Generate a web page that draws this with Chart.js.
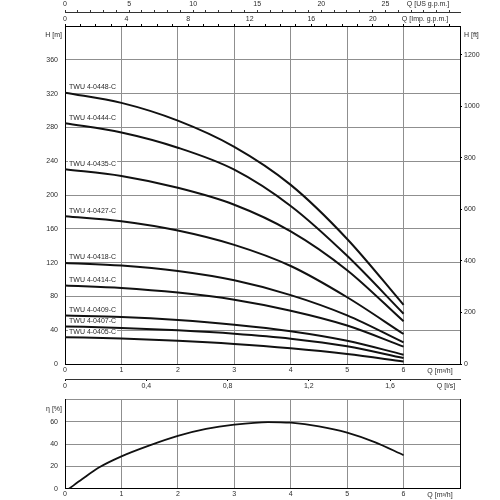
<!DOCTYPE html>
<html><head><meta charset="utf-8">
<script src="https://cdn.jsdelivr.net/npm/chart.js@4.4.1/dist/chart.umd.min.js"></script>
<style>
html,body{margin:0;padding:0;background:#fff;width:500px;height:500px;overflow:hidden}
canvas{position:absolute;left:0}
#top{top:0}
#bot{top:388px}
</style></head><body>
<canvas id="top" width="500" height="392"></canvas>
<canvas id="bot" width="500" height="112"></canvas>
<script>
// ---- data ----
const flow = [0, 1, 2, 3, 4, 5, 6];               // Q [m3/h]
const pumpNames = ['TWU 4-0448-C','TWU 4-0444-C','TWU 4-0435-C','TWU 4-0427-C','TWU 4-0418-C','TWU 4-0414-C','TWU 4-0409-C','TWU 4-0407-C','TWU 4-0405-C'];
const h0448 = [321, 309, 288, 257, 212, 148, 70];
const h0444 = [285, 274, 256, 230, 187, 128, 59.5];
const h0435 = [230.5, 222.5, 208.5, 188.5, 157, 111, 50.5];
const h0427 = [175, 169, 158, 141, 116, 79, 35.5];
const h0418 = [119.6, 116.5, 110, 99, 81.5, 57.5, 25.5];
const h0414 = [93, 90, 84.5, 76, 63, 45.5, 20.5];
const h0409 = [57.5, 55.6, 52, 46.5, 38.8, 27.5, 11];
const h0407 = [44.5, 42.7, 39.8, 35.8, 30, 21, 7];
const h0405 = [31.7, 30.2, 27.6, 23.8, 18.6, 11.8, 3];
const headSeries = [h0448, h0444, h0435, h0427, h0418, h0414, h0409, h0407, h0405];
const effFlow = [0.07, 0.3, 0.6, 1, 1.5, 2, 2.5, 3, 3.6, 4, 4.5, 5, 5.5, 6];
const effValues = [0, 8.5, 19, 29, 38.8, 47.3, 53.5, 57.3, 59.6, 59, 55.8, 50.2, 41.5, 30];
const headTicksM = [0, 40, 80, 120, 160, 200, 240, 280, 320, 360];
const effTicks = [0, 20, 40, 60];

// unit conversions
const M3H_TO_USGPM = 4.40287, M3H_TO_IMPGPM = 3.66615, M3H_TO_LS = 1/3.6, M_TO_FT = 3.28084;
const Q_MAX = 7, H_MAX = 400;

const FONT = {family: "'Liberation Sans', Arial, sans-serif", size: 7};
const TXT = '#2a2a2a';
const GRID = '#8f8f8f';
Chart.defaults.font.family = FONT.family;
Chart.defaults.font.size = FONT.size;
Chart.defaults.color = TXT;

const fix = (prop, v) => (s) => { s[prop] = v; };

const labelPlugin = {
  id: 'curveLabels',
  beforeDatasetsDraw(chart) {
    const ctx = chart.ctx, xs = chart.scales.x, ys = chart.scales.y;
    ctx.save();
    ctx.font = FONT.size + 'px ' + FONT.family;
    ctx.textBaseline = 'middle';
    ctx.textAlign = 'left';
    pumpNames.forEach((n, i) => {
      const px = xs.getPixelForValue(0) + 4;
      const py = ys.getPixelForValue(headSeries[i][0]) - 5.5;
      const w = ctx.measureText(n).width;
      ctx.fillStyle = '#fff';
      ctx.fillRect(px - 1, py - 4, w + 2, 8);
      ctx.fillStyle = TXT;
      ctx.fillText(n, px, py);
    });
    ctx.restore();
  }
};

const titlesTop = {
  id: 'titlesTop',
  afterDraw(chart) {
    const ctx = chart.ctx, a = chart.chartArea;
    ctx.save();
    ctx.font = FONT.size + 'px ' + FONT.family;
    ctx.fillStyle = TXT;
    ctx.textBaseline = 'middle';
    ctx.textAlign = 'right';
    ctx.fillText('H [m]', a.left - 3, a.top + 9);
    ctx.textAlign = 'left';
    ctx.fillText('H [ft]', a.right + 4, a.top + 9);
    ctx.textAlign = 'center';
    ctx.fillText('Q [US g.p.m.]', a.right - 32, chart.scales.xUS.top + 4);
    ctx.fillText('Q [Imp. g.p.m.]', a.right - 35, chart.scales.xImp.top + 7);
    ctx.fillText('Q [m³/h]', a.right - 20, a.bottom + 7);
    ctx.fillText('Q [l/s]', a.right - 14, chart.scales.xLs.top + 7.5);
    ctx.restore();
  }
};

const titlesBot = {
  id: 'titlesBot',
  afterDraw(chart) {
    const ctx = chart.ctx, a = chart.chartArea;
    ctx.save();
    ctx.font = FONT.size + 'px ' + FONT.family;
    ctx.fillStyle = TXT;
    ctx.textBaseline = 'middle';
    ctx.textAlign = 'right';
    ctx.fillText('η [%]', a.left - 3, a.top + 10);
    ctx.textAlign = 'center';
    ctx.fillText('Q [m³/h]', a.right - 20, a.bottom + 6);
    ctx.restore();
  }
};

new Chart(document.getElementById('top'), {
  type: 'line',
  data: {
    datasets: headSeries.map((arr, i) => ({
      label: pumpNames[i],
      data: flow.map((q, j) => ({x: q, y: arr[j]})),
      borderColor: '#111', borderWidth: 2, pointRadius: 0,
      cubicInterpolationMode: 'monotone', fill: false
    }))
  },
  options: {
    responsive: false, animation: false,
    layout: {padding: 0},
    plugins: {legend: {display: false}, tooltip: {enabled: false}},
    scales: {
      x: {
        type: 'linear', position: 'bottom', weight: 1, min: 0, max: Q_MAX,
        afterFit: fix('height', 15),
        ticks: {stepSize: 1, padding: 2, maxRotation: 0, autoSkip: false,
                callback: v => v <= 6 ? String(v) : ''},
        grid: {color: GRID, lineWidth: 1, drawTicks: false},
        border: {display: true, color: '#000', width: 1}
      },
      xLs: {
        type: 'linear', position: 'bottom', weight: 2, min: 0, max: Q_MAX * M3H_TO_LS,
        afterFit: fix('height', 13),
        ticks: {stepSize: 0.4, padding: 1, maxRotation: 0, autoSkip: false, includeBounds: false,
                callback: v => v === 0 ? '0' : v.toFixed(1).replace('.', ',')},
        grid: {drawOnChartArea: false, drawTicks: true, tickLength: 2, tickColor: '#000'},
        border: {display: true, color: '#333', width: 1}
      },
      xImp: {
        type: 'linear', position: 'top', weight: 1, min: 0, max: Q_MAX * M3H_TO_IMPGPM,
        afterFit: fix('height', 14),
        ticks: {stepSize: 1, padding: 1, maxRotation: 0, autoSkip: false, includeBounds: false,
                callback: v => (v % 4 === 0 && v <= 20) ? String(v) : ''},
        grid: {drawOnChartArea: false, drawTicks: true, tickLength: 2, tickColor: '#000'},
        border: {display: true, color: '#000', width: 1}
      },
      xUS: {
        type: 'linear', position: 'top', weight: 2, min: 0, max: Q_MAX * M3H_TO_USGPM,
        afterFit: fix('height', 12),
        ticks: {stepSize: 1, padding: 2, maxRotation: 0, autoSkip: false, includeBounds: false,
                callback: v => (v % 5 === 0 && v <= 25) ? String(v) : ''},
        grid: {drawOnChartArea: false, drawTicks: true, tickLength: 2, tickColor: '#333'},
        border: {display: true, color: '#333', width: 1}
      },
      y: {
        type: 'linear', position: 'left', min: 0, max: H_MAX,
        afterFit: fix('width', 65),
        afterBuildTicks: s => { s.ticks = headTicksM.concat([H_MAX]).map(v => ({value: v})); },
        ticks: {padding: 7, callback: v => headTicksM.includes(v) ? String(v) : ''},
        grid: {color: GRID, lineWidth: 1, drawTicks: false},
        border: {display: true, color: '#000', width: 1}
      },
      yFt: {
        type: 'linear', position: 'right', min: 0, max: H_MAX * M_TO_FT,
        afterFit: fix('width', 40),
        ticks: {stepSize: 200, padding: 2, includeBounds: false, callback: v => String(v)},
        grid: {drawOnChartArea: false, drawTicks: true, tickLength: 2, tickColor: '#000'},
        border: {display: true, color: '#000', width: 1}
      }
    }
  },
  plugins: [labelPlugin, titlesTop]
});

new Chart(document.getElementById('bot'), {
  type: 'line',
  data: {
    datasets: [{
      label: 'η',
      data: effFlow.map((q, i) => ({x: q, y: effValues[i]})),
      borderColor: '#111', borderWidth: 1.8, pointRadius: 0,
      cubicInterpolationMode: 'monotone', fill: false
    }]
  },
  options: {
    responsive: false, animation: false,
    layout: {padding: {top: 5, right: 40, left: 0, bottom: 0}},
    plugins: {legend: {display: false}, tooltip: {enabled: false}},
    scales: {
      x: {
        type: 'linear', position: 'bottom', min: 0, max: Q_MAX,
        afterFit: fix('height', 10),
        ticks: {stepSize: 1, padding: 1, maxRotation: 0, autoSkip: false,
                callback: v => v <= 6 ? String(v) : ''},
        grid: {color: GRID, lineWidth: 1, drawTicks: false},
        border: {display: true, color: '#000', width: 1}
      },
      y: {
        type: 'linear', position: 'left', min: 0, max: 80,
        afterFit: fix('width', 65),
        afterBuildTicks: s => { s.ticks = effTicks.concat([80]).map(v => ({value: v})); },
        ticks: {padding: 7, callback: v => effTicks.includes(v) ? String(v) : ''},
        grid: {color: GRID, lineWidth: 1, drawTicks: false},
        border: {display: true, color: '#000', width: 1}
      },
      yR: {
        type: 'linear', position: 'right', display: true, min: 0, max: 80,
        afterFit: fix('width', 0),
        ticks: {display: false},
        grid: {drawOnChartArea: false, drawTicks: false},
        border: {display: true, color: '#000', width: 1}
      }
    }
  },
  plugins: [titlesBot]
});
</script>
</body></html>
